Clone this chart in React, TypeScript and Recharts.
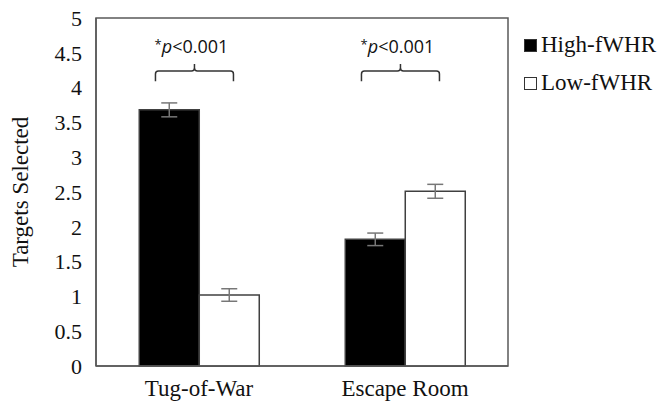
import React from 'react';
import {
  BarChart,
  Bar,
  XAxis,
  YAxis,
  ErrorBar,
  Legend,
  LabelList,
  ReferenceArea,
} from 'recharts';

const categories = ['Tug-of-War', 'Escape Room'];
const highValues = [3.68, 1.82];
const lowValues = [1.02, 2.51];
const highErrors = [0.1, 0.09];
const lowErrors = [0.09, 0.1];
const pLabels = ['p<0.001', 'p<0.001'];
const yTicks = [0, 0.5, 1, 1.5, 2, 2.5, 3, 3.5, 4, 4.5, 5];

// bracket levels in data units
const bracketLevel = 4.24;
const bracketEnd = 4.09;
const bracketPeak = 4.34;
const pTextLevel = 4.5;

const data = categories.map((name, i) => ({
  name,
  high: highValues[i],
  low: lowValues[i],
  highErr: highErrors[i],
  lowErr: lowErrors[i],
  p: pLabels[i],
}));

const AXIS = '#595959';
const SERIF = 'Liberation Serif, DejaVu Serif, serif';

const Bracket = (props: any) => {
  const { x, y, width, height, value, index } = props;
  const base = y + height;
  const perUnit = height / value;
  const toY = (v: number) => base - v * perUnit;
  const x1 = x + width * 0.27;
  const x2 = x + width * 1.57;
  const mid = (x1 + x2) / 2;
  const yl = toY(bracketLevel);
  const ye = toY(bracketEnd);
  const yp = toY(bracketPeak);
  const r = 3;
  const d = `M${x1},${ye} L${x1},${yl + r} Q${x1},${yl} ${x1 + r},${yl} L${mid - r},${yl} Q${mid},${yl} ${mid},${yl - r} L${mid},${yp} M${mid},${yl - r} Q${mid},${yl} ${mid + r},${yl} L${x2 - r},${yl} Q${x2},${yl} ${x2},${yl + r} L${x2},${ye}`;
  return (
    <g>
      <path d={d} fill="none" stroke="#333" strokeWidth={1.5} />
      <text
        x={mid - 3}
        y={toY(pTextLevel)}
        textAnchor="middle"
        fontFamily="Open Sans, Liberation Sans, sans-serif"
        fontSize={18}
        fill="#111"
      >
        <tspan fontSize={13} dy={-4}>*</tspan>
        <tspan fontStyle="italic" dy={4}>p</tspan>
        <tspan>{data[index].p.slice(1)}</tspan>
      </text>
    </g>
  );
};

const LegendContent = () => (
  <div style={{ fontFamily: SERIF, fontSize: 23, color: '#111' }}>
    {[
      { label: 'High-fWHR', fill: '#000' },
      { label: 'Low-fWHR', fill: '#fff' },
    ].map((item) => (
      <div key={item.label} style={{ display: 'flex', alignItems: 'center', height: 38 }}>
        <span
          style={{
            display: 'inline-block',
            width: 11,
            height: 11,
            background: item.fill,
            border: '1px solid #333',
            marginRight: 4,
          }}
        />
        <span>{item.label}</span>
      </div>
    ))}
  </div>
);

const YLabel = (props: any) => {
  const { viewBox } = props;
  const cx = viewBox.x + 20;
  const cy = viewBox.y + viewBox.height / 2;
  return (
    <text
      x={cx}
      y={cy}
      transform={`rotate(-90, ${cx}, ${cy})`}
      textAnchor="middle"
      dominantBaseline="central"
      fontFamily={SERIF}
      fontSize={23}
      fill="#111"
    >
      Targets Selected
    </text>
  );
};

const App: React.FC = () => {
  return (
    <div style={{ position: 'absolute', left: 0, top: 0, background: '#fff' }}>
      <BarChart
        width={662}
        height={405}
        data={data}
        margin={{ top: 18, right: 154, left: 0, bottom: 9 }}
        barCategoryGap="21%"
        barGap={0}
      >
        <XAxis
          dataKey="name"
          axisLine={{ stroke: AXIS, strokeWidth: 1.5 }}
          tickLine={false}
          tickSize={0}
          tickMargin={14}
          height={30}
          tick={{ fontFamily: SERIF, fontSize: 23, fill: '#111' }}
        />
        <YAxis
          domain={[0, 5]}
          ticks={yTicks}
          width={96}
          axisLine={{ stroke: AXIS, strokeWidth: 1.5 }}
          tickLine={false}
          tickSize={0}
          tickMargin={14}
          tick={{ fontFamily: SERIF, fontSize: 22, fill: '#111' }}
          label={<YLabel />}
        />
        <ReferenceArea y1={0} y2={5} fill="none" stroke={AXIS} strokeWidth={1.5} />
        <Legend
          layout="vertical"
          align="center"
          verticalAlign="middle"
          content={<LegendContent />}
          wrapperStyle={{ position: 'absolute', left: 524, top: 26, width: 140 }}
        />
        <Bar dataKey="high" fill="#000" stroke="#404040" strokeWidth={1.5} isAnimationActive={false}>
          <ErrorBar dataKey="highErr" width={8} stroke="#777" strokeWidth={1.5} />
          <LabelList dataKey="high" content={<Bracket />} />
        </Bar>
        <Bar dataKey="low" fill="#fff" stroke="#404040" strokeWidth={1.5} isAnimationActive={false}>
          <ErrorBar dataKey="lowErr" width={8} stroke="#777" strokeWidth={1.5} />
        </Bar>
      </BarChart>
    </div>
  );
};

export default App;
